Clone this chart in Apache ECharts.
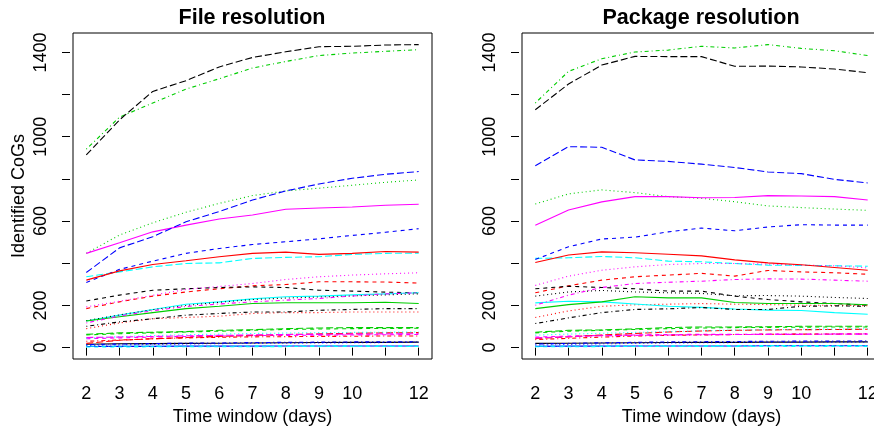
<!DOCTYPE html>
<html>
<head>
<meta charset="utf-8">
<script src="https://cdn.jsdelivr.net/npm/echarts@6/dist/echarts.min.js"></script>
<style>
  html, body { margin: 0; padding: 0; background: #fff; }
  #chart { width: 874px; height: 430px; }
</style>
</head>
<body>
<div id="chart"></div>
<script>
// time windows (days) and the tick labels R kept
const days = [2, 3, 4, 5, 6, 7, 8, 9, 10, 11, 12];
const xLabels = [2, 3, 4, 5, 6, 7, 8, 9, 10, 12];
const yTicks = [0, 200, 400, 600, 800, 1000, 1200, 1400];
const yLabels = [0, 200, 600, 1000, 1400];

// File resolution, one array per matplot column
const file01 = [16, 18, 19, 20, 21, 22, 23, 24, 25, 25, 26];
const file02 = [185, 217, 244, 264, 279, 293, 299, 312, 312, 311, 306];
const file03 = [447, 534, 592, 642, 684, 721, 743, 756, 770, 784, 795];
const file04 = [14, 17, 19, 21, 22, 24, 25, 26, 27, 27, 28];
const file05 = [336, 359, 383, 399, 402, 423, 428, 431, 442, 447, 448];
const file06 = [447, 497, 549, 581, 610, 629, 656, 662, 667, 675, 680];
const file07 = [221, 249, 272, 279, 285, 288, 285, 272, 268, 263, 260];
const file08 = [90, 117, 137, 143, 149, 162, 166, 166, 169, 169, 169];
const file09 = [941, 1093, 1160, 1226, 1275, 1326, 1357, 1385, 1397, 1405, 1413];
const file10 = [356, 473, 526, 597, 645, 700, 743, 776, 803, 822, 835];
const file11 = [126, 154, 181, 206, 217, 231, 241, 244, 250, 255, 260];
const file12 = [42, 46, 50, 53, 55, 57, 58, 59, 60, 61, 62];
const file13 = [128, 155, 180, 200, 215, 228, 235, 240, 245, 250, 255];
const file14 = [30, 36, 42, 46, 49, 51, 52, 53, 54, 55, 55];
const file15 = [63, 70, 73, 76, 82, 85, 90, 93, 95, 95, 95];
const file16 = [5, 6, 6, 7, 7, 7, 8, 8, 8, 8, 8];
const file17 = [3, 3, 4, 4, 4, 4, 5, 5, 5, 5, 5];
const file18 = [193, 220, 248, 276, 290, 304, 323, 336, 344, 350, 355];
const file19 = [101, 122, 137, 154, 162, 169, 169, 177, 181, 185, 185];
const file20 = [20, 35, 42, 48, 53, 58, 62, 65, 68, 70, 71];
const file21 = [126, 146, 166, 185, 196, 209, 213, 213, 213, 215, 209];
const file22 = [309, 371, 410, 447, 470, 489, 502, 516, 532, 547, 564];
const file23 = [45, 52, 57, 61, 64, 67, 69, 71, 72, 73, 74];
const file24 = [117, 150, 175, 195, 207, 217, 225, 233, 245, 255, 260];
const file25 = [914, 1080, 1215, 1266, 1331, 1376, 1403, 1427, 1429, 1435, 1437];
const file26 = [320, 364, 394, 412, 431, 447, 453, 442, 447, 456, 453];
const file27 = [60, 66, 70, 74, 78, 82, 86, 88, 90, 91, 92];
const file28 = [10, 13, 15, 17, 19, 20, 21, 22, 23, 24, 25];
const file29 = [6, 7, 7, 8, 8, 8, 9, 9, 9, 9, 9];
const file30 = [48, 50, 53, 56, 58, 60, 62, 63, 64, 65, 66];

// Package resolution
const pkg01 = [20, 21, 22, 23, 24, 25, 25, 26, 26, 27, 27];
const pkg02 = [260, 293, 320, 336, 344, 352, 339, 366, 359, 355, 348];
const pkg03 = [681, 729, 748, 735, 716, 708, 692, 672, 664, 657, 651];
const pkg04 = [17, 20, 23, 25, 27, 28, 29, 30, 31, 31, 32];
const pkg05 = [423, 426, 432, 426, 410, 407, 399, 391, 390, 388, 386];
const pkg06 = [580, 653, 691, 716, 716, 711, 712, 721, 719, 716, 700];
const pkg07 = [279, 291, 285, 279, 268, 268, 244, 228, 217, 209, 201];
const pkg08 = [143, 174, 196, 203, 206, 209, 206, 204, 201, 201, 199];
const pkg09 = [1160, 1310, 1370, 1402, 1411, 1429, 1421, 1437, 1419, 1408, 1385];
const pkg10 = [862, 953, 950, 890, 883, 870, 854, 833, 825, 798, 781];
const pkg11 = [212, 220, 217, 207, 196, 191, 183, 178, 176, 166, 158];
const pkg12 = [50, 55, 58, 60, 62, 63, 63, 64, 64, 65, 65];
const pkg13 = [244, 264, 271, 264, 260, 257, 246, 247, 244, 238, 233];
const pkg14 = [38, 44, 50, 55, 58, 60, 62, 63, 64, 64, 65];
const pkg15 = [73, 82, 84, 89, 95, 98, 98, 99, 101, 101, 101];
const pkg16 = [6, 7, 7, 8, 8, 8, 8, 9, 9, 9, 9];
const pkg17 = [4, 4, 5, 5, 5, 5, 5, 6, 6, 6, 6];
const pkg18 = [295, 339, 367, 383, 394, 399, 399, 396, 391, 388, 378];
const pkg19 = [114, 141, 166, 181, 184, 190, 181, 181, 196, 198, 196];
const pkg20 = [43, 51, 60, 67, 74, 79, 82, 84, 85, 86, 87];
const pkg21 = [185, 204, 217, 241, 236, 236, 214, 209, 209, 209, 203];
const pkg22 = [418, 478, 515, 524, 549, 567, 554, 572, 583, 581, 581];
const pkg23 = [59, 64, 68, 72, 76, 80, 83, 85, 87, 88, 90];
const pkg24 = [201, 249, 285, 304, 310, 315, 323, 326, 325, 320, 315];
const pkg25 = [1128, 1250, 1340, 1381, 1380, 1380, 1334, 1335, 1331, 1321, 1304];
const pkg26 = [404, 439, 454, 450, 443, 435, 416, 402, 393, 380, 367];
const pkg27 = [70, 78, 82, 86, 90, 93, 95, 96, 97, 98, 98];
const pkg28 = [12, 15, 18, 20, 22, 23, 24, 25, 25, 26, 26];
const pkg29 = [7, 8, 8, 9, 9, 9, 10, 10, 10, 10, 10];
const pkg30 = [46, 52, 56, 58, 60, 61, 62, 63, 63, 64, 64];

const fileCols = [file01, file02, file03, file04, file05, file06, file07, file08, file09, file10,
  file11, file12, file13, file14, file15, file16, file17, file18, file19, file20,
  file21, file22, file23, file24, file25, file26, file27, file28, file29, file30];
const pkgCols = [pkg01, pkg02, pkg03, pkg04, pkg05, pkg06, pkg07, pkg08, pkg09, pkg10,
  pkg11, pkg12, pkg13, pkg14, pkg15, pkg16, pkg17, pkg18, pkg19, pkg20,
  pkg21, pkg22, pkg23, pkg24, pkg25, pkg26, pkg27, pkg28, pkg29, pkg30];

// matplot defaults: col = 1:6, lty = 1:5
const palette = ['#000000', '#FF0000', '#00CD00', '#0000FF', '#00FFFF', '#FF00FF'];
const ltys = ['solid', [4, 4], [1, 3], [1, 3, 4, 3], [7, 3]];

const font = 'Liberation Sans, Arial, sans-serif';

function makeSeries(cols, idx) {
  return cols.map((col, k) => ({
    type: 'line',
    xAxisIndex: idx,
    yAxisIndex: idx,
    data: days.map((d, i) => [d, col[i]]),
    symbol: 'none',
    silent: true,
    lineStyle: { color: palette[k % 6], width: 1.1, type: ltys[k % 5] }
  }));
}

function xAx(idx) {
  return {
    type: 'value', gridIndex: idx, min: 1.6, max: 12.4, offset: 3,
    axisLine: { show: false },
    axisTick: { show: true, length: 8, customValues: days, lineStyle: { color: '#000' } },
    axisLabel: { customValues: xLabels, fontSize: 18, color: '#000', margin: 23, fontFamily: font,
      formatter: v => String(v) },
    splitLine: { show: false },
    name: 'Time window (days)', nameLocation: 'middle', nameGap: 44,
    nameTextStyle: { fontSize: 18, color: '#000', fontFamily: font }
  };
}

function yAx(idx, withName) {
  return {
    type: 'value', gridIndex: idx, min: -54, max: 1492, offset: 3,
    axisLine: { show: false },
    axisTick: { show: true, length: 8, customValues: yTicks, lineStyle: { color: '#000' } },
    axisLabel: { customValues: yLabels, rotate: 90, fontSize: 18, color: '#000', margin: 20, fontFamily: font,
      formatter: v => String(v) },
    splitLine: { show: false },
    name: withName ? 'Identified CoGs' : '', nameLocation: 'middle', nameGap: 42,
    nameTextStyle: { fontSize: 18, color: '#000', fontFamily: font }
  };
}

const chart = echarts.init(document.getElementById('chart'));
chart.setOption({
  animation: false,
  backgroundColor: '#fff',
  textStyle: { fontFamily: font },
  title: [
    { text: 'File resolution', left: 252, top: 7, textAlign: 'center', padding: 0,
      textStyle: { fontSize: 21.5, fontWeight: 'bold', color: '#000', fontFamily: font } },
    { text: 'Package resolution', left: 701, top: 7, textAlign: 'center', padding: 0,
      textStyle: { fontSize: 21.5, fontWeight: 'bold', color: '#000', fontFamily: font } }
  ],
  grid: [
    { left: 73, top: 33, width: 359, height: 326, show: true, borderColor: '#000', borderWidth: 1,
      outerBoundsMode: 'none' },
    { left: 522, top: 33, width: 359, height: 326, show: true, borderColor: '#000', borderWidth: 1,
      outerBoundsMode: 'none' }
  ],
  xAxis: [xAx(0), xAx(1)],
  yAxis: [yAx(0, true), yAx(1, false)],
  series: makeSeries(fileCols, 0).concat(makeSeries(pkgCols, 1))
});
</script>
</body>
</html>
